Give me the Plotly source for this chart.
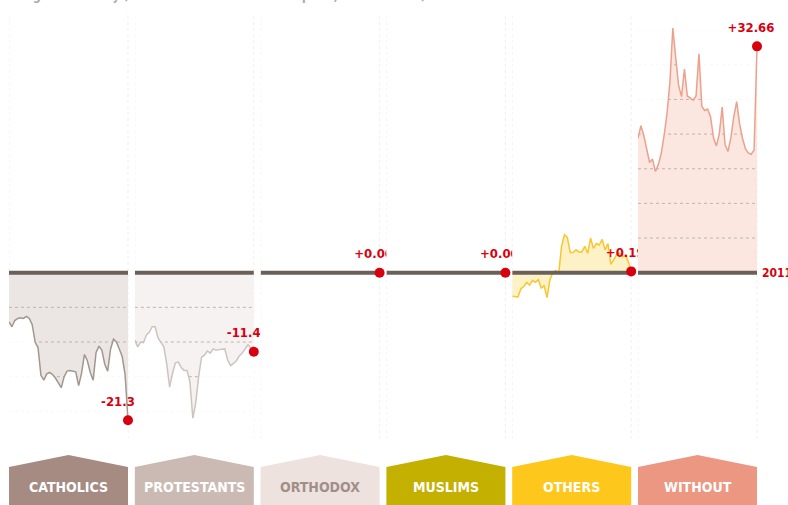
import plotly.graph_objects as go

W, H = 788, 505

YEARS = list(range(1970, 2012))

CATHOLICS = [-7.1, -7.8, -6.9, -6.6, -6.5, -6.6, -6.3, -6.6, -7.5, -10.0,
             -10.8, -14.8, -15.5, -14.6, -14.4, -14.7, -15.2, -15.9, -16.6, -15.0,
             -14.2, -14.1, -14.2, -14.3, -16.3, -14.5, -11.8, -12.7, -14.4, -15.5,
             -11.5, -10.6, -11.2, -13.2, -14.2, -11.0, -9.6, -10.0, -11.0, -12.1,
             -14.7, -21.3]
PROTESTANTS = [-9.7, -10.7, -10.0, -10.1, -9.0, -8.6, -7.8, -7.8, -9.4, -10.0,
               -10.7, -13.2, -16.5, -14.5, -13.0, -12.9, -13.7, -14.1, -14.1, -15.8,
               -21.0, -18.8, -15.0, -12.2, -11.9, -11.3, -11.6, -11.0, -11.2, -11.1,
               -11.0, -11.0, -12.6, -13.4, -13.1, -12.7, -12.0, -11.6, -11.0, -10.4,
               -10.9, -11.4]
ORTHODOX = [0.0] * len(YEARS)
MUSLIMS = [0.0] * len(YEARS)
OTHERS = [-3.4, -3.5, -3.5, -2.3, -2.0, -1.4, -1.8, -1.1, -1.4, -1.0,
          -2.2, -1.9, -3.6, -1.0, 0.0, 0.3, -0.2, 3.8, 5.5, 5.1,
          2.9, 2.9, 3.3, 3.0, 3.0, 3.8, 2.8, 5.0, 3.5, 4.2,
          4.0, 4.8, 3.3, 4.2, 1.2, 1.9, 2.6, 2.8, 2.3, 2.5,
          1.6, 0.19]
WITHOUT = [19.4, 21.2, 19.8, 18.0, 15.9, 16.4, 14.6, 15.6, 17.2, 19.8,
           23.0, 27.5, 35.3, 31.0, 27.0, 25.4, 29.4, 25.5, 25.2, 24.9,
           25.5, 31.6, 24.0, 23.4, 23.6, 22.5, 19.5, 18.3, 20.0, 23.9,
           18.5, 17.5, 19.5, 22.5, 24.7, 21.5, 19.4, 17.9, 17.3, 17.1,
           17.7, 32.66]

NAMES = ["CATHOLICS", "PROTESTANTS", "ORTHODOX", "MUSLIMS", "OTHERS", "WITHOUT"]
SERIES = [CATHOLICS, PROTESTANTS, ORTHODOX, MUSLIMS, OTHERS, WITHOUT]
GRID_LEVELS = [[-5, -10, -15, -20], [-5, -10, -15, -20], [], [], [],
               [5, 10, 15, 20, 25, 30, 35]]

LINE_COLORS = ["#a3968f", "#cdc3bf", "#d8ccc8", "#c4b000", "#f8c630", "#eca18d"]
FILL_COLORS = ["#ebe6e3", "#f5f2f1", "#f7f1ef", "#f6f0c8", "#fdf1c6", "#fbe6e0"]
TAB_COLORS = ["#a58b82", "#cbbab4", "#eee2de", "#c4b000", "#fdc81b", "#eb9782"]
TAB_TEXT = ["#ffffff", "#ffffff", "#a08f88", "#ffffff", "#ffffff", "#ffffff"]
RED = "#d8000f"
BASE = "#6b5f5a"
NARROW = "DejaVu Sans Condensed, Liberation Sans Narrow, sans-serif"

# pixel layout
X0, PITCH, DATA_W = 9, 125.8, 119
ZERO_Y, PX_PER_UNIT = 272.7, 6.93
YMAX = ZERO_Y / PX_PER_UNIT
YMIN = -(H - ZERO_Y) / PX_PER_UNIT
PX_PER_YEAR = DATA_W / (YEARS[-1] - YEARS[0])
LABEL_SHIFT = 6 / PX_PER_YEAR  # value labels sit a little left of the dot


def px(x):
    return x / W


def py(y):
    return 1 - y / H


fig = go.Figure()
layout = dict(
    width=W, height=H,
    margin=dict(l=0, r=0, t=0, b=0),
    paper_bgcolor="white", plot_bgcolor="rgba(0,0,0,0)",
    showlegend=False,
    yaxis=dict(range=[YMIN, YMAX], domain=[0, 1], visible=False, fixedrange=True),
)
shapes, annotations = [], []

for i, (name, vals) in enumerate(zip(NAMES, SERIES)):
    left = X0 + i * PITCH
    right = left + PITCH if i < len(NAMES) - 1 else W
    ax = "x" if i == 0 else f"x{i + 1}"
    layout["xaxis" if i == 0 else f"xaxis{i + 1}"] = dict(
        domain=[px(left), px(right)],
        range=[YEARS[0], YEARS[0] + (right - left) / PX_PER_YEAR],
        visible=False, anchor="y", fixedrange=True,
    )
    kw = dict(xaxis=ax, yaxis="y", hoverinfo="skip")

    # faint panel edges
    fig.add_trace(go.Scatter(
        x=[YEARS[0], YEARS[0], None, YEARS[-1], YEARS[-1]],
        y=[-24, 37, None, -24, 37], mode="lines",
        line=dict(color="#efefef", width=1, dash="dot"), **kw))

    if any(v != 0 for v in vals):
        fig.add_trace(go.Scatter(
            x=YEARS, y=vals, mode="lines", fill="tozeroy",
            fillcolor=FILL_COLORS[i], line=dict(width=0), **kw))

    levels = GRID_LEVELS[i]
    if levels:
        for lv in levels:
            fig.add_trace(go.Scatter(
                x=[YEARS[0], YEARS[-1]], y=[lv, lv], mode="lines",
                line=dict(color="#bfb4af", width=1, dash="dot"), **kw))
        bound = YMIN - 1 if levels[0] < 0 else YMAX + 1
        fig.add_trace(go.Scatter(
            x=YEARS + YEARS[::-1], y=vals + [bound] * len(vals),
            mode="lines", fill="toself", fillcolor="rgba(255,255,255,0.9)",
            line=dict(width=0), **kw))

    if any(v != 0 for v in vals):
        fig.add_trace(go.Scatter(
            x=YEARS, y=vals, mode="lines",
            line=dict(color=LINE_COLORS[i], width=1.5), **kw))

    # baseline
    fig.add_trace(go.Scatter(
        x=[YEARS[0], YEARS[-1]], y=[0, 0], mode="lines",
        line=dict(color=BASE, width=4), **kw))

    # end dot and its value (label clipped by the panel like the original)
    fig.add_trace(go.Scatter(
        x=[YEARS[-1]], y=[vals[-1]], mode="markers",
        marker=dict(size=10, color=RED), **kw))
    fig.add_trace(go.Scatter(
        x=[YEARS[-1] - LABEL_SHIFT], y=[vals[-1]], mode="markers+text",
        marker=dict(size=16, color="rgba(0,0,0,0)"),
        text=[f"{vals[-1]:+.2f}"], textposition="top center",
        textfont=dict(family=NARROW, size=13, color=RED, weight="bold"),
        cliponaxis=True, **kw))

    # category tab
    l, r = left, left + DATA_W
    m = (l + r) / 2
    shapes.append(dict(
        type="path", xref="paper", yref="paper",
        path=(f"M {px(l)} {py(510)} L {px(l)} {py(467)} L {px(m)} {py(455)} "
              f"L {px(r)} {py(467)} L {px(r)} {py(510)} Z"),
        fillcolor=TAB_COLORS[i], line=dict(width=0), layer="above"))
    annotations.append(dict(
        x=px(m), y=py(487), xref="paper", yref="paper", text=name,
        showarrow=False, xanchor="center", yanchor="middle",
        font=dict(family=NARROW, size=14, color=TAB_TEXT[i], weight="bold")))

annotations.append(dict(
    x=px(760), y=py(ZERO_Y), xref="paper", yref="paper", text="2011",
    showarrow=False, xanchor="left", yanchor="middle",
    font=dict(family=NARROW, size=12, color=RED, weight="bold")))
annotations.append(dict(
    x=px(8), y=py(5), xref="paper", yref="paper",
    text="Religious mobility (difference of adds and exits per 1,000 members)",
    showarrow=False, xanchor="left", yanchor="bottom",
    font=dict(family=NARROW, size=12, color="#a8a8a8", weight="bold")))

layout["shapes"] = shapes
layout["annotations"] = annotations
fig.update_layout(**layout)

fig.write_html("out.html", config={"displayModeBar": False},
               post_script="document.body.style.margin='0';")
